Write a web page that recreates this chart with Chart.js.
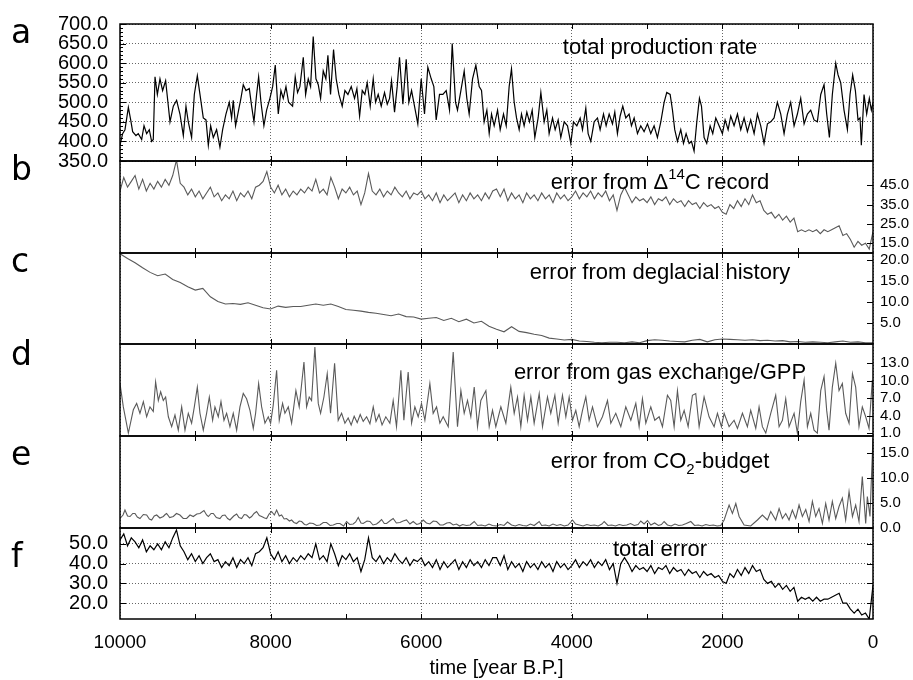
<!DOCTYPE html>
<html><head><meta charset="utf-8">
<script src="https://cdn.jsdelivr.net/npm/chart.js@4/dist/chart.umd.min.js"></script>
<style>
html,body{margin:0;padding:0;background:#fff;}
#wrap{position:relative;width:913px;height:680px;background:#fff;}
#wrap canvas{position:absolute;left:0;top:0;}
</style></head><body><div id="wrap">
<canvas id="cA" width="913" height="680"></canvas>
<canvas id="cB" width="913" height="680"></canvas>
<canvas id="cC" width="913" height="680"></canvas>
<canvas id="cD" width="913" height="680"></canvas>
<canvas id="cE" width="913" height="680"></canvas>
<canvas id="cF" width="913" height="680"></canvas>
</div>
<script>
// ---------------- DATA ----------------
const xLabelYears = [10000, 8000, 6000, 4000, 2000, 0];
const xMinorYears = [9000, 7000, 5000, 3000, 1000];
const xTitle = 'time [year B.P.]';

const ticksA = [350, 400, 450, 500, 550, 600, 650, 700];
const ticksB = [15, 25, 35, 45];
const ticksC = [5, 10, 15, 20];
const ticksD = [1, 4, 7, 10, 13];
const ticksE = [0, 5, 10, 15];
const ticksF = [20, 30, 40, 50];

// (a) total production rate
const aYears = [
 10000, 9965, 9934, 9889, 9858, 9832, 9788, 9757, 9712, 9681,
 9646, 9611, 9580, 9558, 9535, 9504, 9469, 9434, 9394, 9358,
 9336, 9292, 9248, 9204, 9159, 9124, 9093, 9049, 9013, 8973,
 8938, 8894, 8858, 8827, 8796, 8761, 8717, 8673, 8637, 8593,
 8549, 8518, 8496, 8465, 8425, 8394, 8363, 8327, 8283, 8252,
 8221, 8186, 8159, 8128, 8089, 8053, 8009, 7973, 7938, 7898,
 7863, 7832, 7796, 7761, 7708, 7673, 7642, 7611, 7566, 7535,
 7500, 7469, 7434, 7398, 7367, 7336, 7301, 7266, 7239, 7204,
 7164, 7129, 7093, 7049, 7013, 6973, 6929, 6885, 6854, 6818,
 6783, 6748, 6717, 6677, 6637, 6606, 6571, 6531, 6487, 6451,
 6420, 6394, 6354, 6319, 6288, 6243, 6199, 6164, 6128, 6089,
 6045, 6000, 5956, 5912, 5867, 5832, 5801, 5757, 5712, 5668,
 5624, 5588, 5544, 5518, 5473, 5429, 5394, 5363, 5318, 5274,
 5230, 5199, 5164, 5128, 5097, 5066, 5031, 4986, 4951, 4907,
 4871, 4832, 4801, 4765, 4734, 4699, 4668, 4633, 4597, 4562,
 4526, 4491, 4447, 4411, 4367, 4332, 4301, 4256, 4221, 4181,
 4146, 4101, 4057, 4013, 3978, 3933, 3889, 3858, 3814, 3783,
 3748, 3703, 3659, 3624, 3579, 3544, 3504, 3460, 3429, 3394,
 3358, 3323, 3283, 3239, 3208, 3172, 3128, 3084, 3040, 2995,
 2951, 2907, 2863, 2818, 2774, 2739, 2694, 2663, 2633, 2597,
 2553, 2517, 2482, 2442, 2411, 2376, 2340, 2305, 2278, 2243,
 2208, 2163, 2128, 2088, 2044, 2000, 1964, 1924, 1889, 1845,
 1800, 1756, 1712, 1668, 1624, 1579, 1535, 1491, 1447, 1402,
 1358, 1314, 1270, 1225, 1181, 1137, 1093, 1048, 1004, 960,
 915, 871, 827, 783, 739, 694, 650, 615, 579, 540,
 495, 464, 429, 385, 340, 305, 270, 234, 199, 172,
 155, 119, 84, 49, 22, 0];
const aVals = [
 390, 420, 430, 487, 455, 425, 415, 420, 405, 440,
 420, 430, 400, 405, 565, 520, 560, 530, 555, 490,
 450, 490, 505, 470, 415, 490, 450, 410, 520, 568,
 520, 460, 455, 390, 440, 410, 430, 385, 430, 470,
 500, 460, 505, 440, 480, 510, 545, 530, 535, 490,
 450, 520, 565, 500, 440, 480, 510, 540, 595, 470,
 530, 510, 540, 500, 490, 565, 525, 540, 615, 520,
 560, 540, 668, 560, 545, 510, 580, 560, 620, 520,
 635, 560, 520, 490, 530, 520, 540, 510, 535, 465,
 530, 520, 550, 490, 560, 500, 520, 490, 525, 495,
 510, 555, 475, 540, 615, 495, 610, 500, 530, 490,
 445, 560, 470, 590, 560, 540, 455, 520, 520, 530,
 480, 650, 500, 480, 530, 580, 510, 470, 560, 595,
 540, 530, 450, 480, 420, 470, 440, 480, 430, 470,
 440, 540, 585, 500, 460, 430, 470, 440, 475, 450,
 480, 410, 460, 525, 450, 480, 420, 460, 430, 455,
 410, 450, 440, 395, 450, 440, 460, 430, 485, 420,
 400, 450, 460, 430, 470, 440, 470, 445, 475, 420,
 465, 490, 460, 470, 440, 460, 420, 440, 425, 445,
 420, 440, 410, 450, 500, 525, 520, 480, 430, 400,
 430, 395, 420, 395, 400, 375, 450, 510, 490, 410,
 395, 440, 420, 460, 440, 420, 455, 430, 465, 440,
 470, 430, 460, 425, 455, 420, 470, 440, 395, 445,
 450, 460, 500, 470, 420, 470, 500, 440, 470, 510,
 445, 470, 480, 455, 450, 520, 545, 470, 410, 520,
 600, 570, 550, 480, 430, 520, 570, 530, 455, 460,
 390, 520, 470, 510, 480, 500];

// years for series sampled every 50 / 100 years (categories)
const years50 = []; for (let y = 10000; y >= 0; y -= 50) years50.push(y);
const years100 = []; for (let y = 10000; y >= 0; y -= 100) years100.push(y);

// (b) error from D14C record (every 50 yr)
const bVals = [
 42, 49, 44, 47, 50, 43, 48, 42, 46, 43,
 47, 44, 48, 45, 50, 58, 46, 44, 40, 43,
 39, 42, 38, 41, 44, 39, 41, 37, 40, 38,
 42, 37, 41, 39, 42, 38, 44, 45, 47, 52,
 44, 41, 45, 40, 43, 39, 42, 40, 43, 41,
 44, 42, 48, 41, 43, 40, 49, 44, 38, 43,
 41, 44, 40, 42, 35, 41, 51, 42, 40, 43,
 39, 42, 40, 44, 41, 39, 42, 38, 41, 40,
 42, 38, 40, 37, 41, 36, 40, 37, 39, 41,
 36, 40, 37, 41, 38, 40, 37, 41, 38, 42,
 43, 39, 43, 37, 41, 38, 40, 36, 41, 38,
 40, 37, 41, 38, 40, 36, 41, 38, 40, 37,
 39, 42, 38, 41, 39, 42, 38, 41, 39, 42,
 37, 40, 32, 40, 44, 40, 36, 39, 37, 38,
 36, 39, 35, 38, 37, 39, 35, 38, 36, 37,
 34, 37, 35, 36, 33, 36, 34, 35, 33, 34,
 31, 30, 35, 33, 37, 34, 38, 35, 40, 36,
 37, 32, 30, 31, 28, 30, 27, 29, 26, 28,
 21, 22, 21, 22, 21, 22, 20, 22, 21, 22,
 23, 24, 19, 20, 17, 13, 16, 14, 15, 12,
 21];

// (c) error from deglacial history (every 100 yr)
const cVals = [
 21.4, 20.3, 19.3, 18.1, 17.0, 16.2, 16.6, 15.3, 14.6, 13.6,
 12.8, 13.2, 11.2, 10.1, 9.5, 9.6, 9.4, 9.8, 9.2, 8.6,
 8.3, 9.0, 8.7, 8.9, 8.9, 9.2, 9.5, 9.2, 9.5, 8.9,
 8.2, 8.0, 7.8, 7.5, 7.3, 7.0, 6.7, 7.1, 6.5, 6.4,
 5.9, 6.1, 6.3, 5.6, 6.1, 5.3, 5.9, 5.0, 5.4, 4.2,
 3.5, 2.9, 4.1, 3.0, 2.7, 2.3, 2.0, 1.4, 1.2, 0.95,
 1.1, 0.7, 0.6, 0.4, 0.3, 0.4, 0.4, 0.3, 0.5, 0.3,
 0.8, 1.0, 0.9, 0.7, 0.6, 0.5, 0.9, 1.1, 0.5, 1.0,
 1.2, 1.1, 1.0, 0.9, 1.0, 0.8, 0.9, 0.7, 0.8, 0.5,
 0.6, 0.4, 0.5, 0.4, 0.3, 0.5, 0.7, 0.4, 0.5, 0.3,
 0.3];

// (d) error from gas exchange/GPP
const dYears = [
 10000, 9956, 9889, 9823, 9779, 9735, 9690, 9646, 9602, 9558,
 9527, 9491, 9460, 9425, 9394, 9358, 9314, 9270, 9226, 9181,
 9137, 9093, 9049, 9013, 8973, 8938, 8894, 8850, 8814, 8770,
 8739, 8695, 8659, 8619, 8584, 8540, 8496, 8451, 8407, 8363,
 8319, 8274, 8230, 8199, 8159, 8119, 8075, 8031, 8000, 7965,
 7920, 7885, 7841, 7810, 7765, 7721, 7664, 7620, 7557, 7522,
 7487, 7456, 7412, 7367, 7336, 7292, 7248, 7204, 7150, 7102,
 7057, 7013, 6970, 6930, 6890, 6850, 6810, 6770, 6725, 6681,
 6637, 6600, 6560, 6520, 6470, 6416, 6372, 6328, 6270, 6230,
 6173, 6128, 6084, 6040, 5996, 5951, 5885, 5841, 5796, 5752,
 5708, 5641, 5575, 5518, 5473, 5429, 5385, 5341, 5296, 5252,
 5208, 5141, 5097, 5053, 5009, 4942, 4876, 4810, 4765, 4721,
 4677, 4633, 4588, 4544, 4500, 4433, 4389, 4323, 4279, 4225,
 4181, 4124, 4079, 4035, 3991, 3947, 3902, 3858, 3814, 3770,
 3725, 3659, 3593, 3526, 3482, 3416, 3349, 3283, 3216, 3150,
 3106, 3062, 3017, 2951, 2898, 2840, 2796, 2730, 2686, 2641,
 2597, 2553, 2508, 2455, 2398, 2354, 2309, 2243, 2177, 2110,
 2066, 2013, 1977, 1911, 1845, 1800, 1734, 1668, 1624, 1557,
 1513, 1469, 1424, 1358, 1292, 1247, 1203, 1159, 1115, 1048,
 1004, 960, 915, 871, 827, 783, 739, 694, 650, 615,
 584, 540, 495, 451, 407, 363, 318, 273, 230, 186,
 142, 97, 53, 9, 0];
const dVals = [
 9.5, 5.5, 1.0, 5.0, 6.1, 4.4, 6.4, 3.8, 5.5, 4.7,
 9.8, 6.6, 8.1, 6.6, 7.2, 3.8, 2.1, 4.1, 1.5, 5.5,
 1.5, 4.4, 2.7, 5.5, 8.9, 4.4, 1.5, 4.4, 7.2, 3.2,
 5.5, 3.8, 6.4, 3.2, 4.4, 2.1, 4.4, 1.5, 5.5, 7.8,
 6.9, 4.9, 1.8, 4.4, 9.5, 5.5, 2.7, 3.8, 2.7, 5.8,
 11.8, 3.2, 6.1, 4.4, 5.5, 2.7, 8.3, 5.5, 13.2, 5.5,
 7.2, 6.6, 15.8, 6.1, 4.4, 7.2, 11.2, 4.4, 13.0, 3.2,
 4.4, 2.7, 3.6, 2.4, 3.9, 2.8, 4.2, 3.0, 3.8, 2.6,
 5.5, 3.0, 4.2, 2.4, 3.8, 2.7, 6.6, 2.1, 11.8, 3.2,
 11.5, 2.7, 5.5, 3.8, 6.1, 3.2, 9.5, 4.4, 5.5, 2.7,
 3.8, 2.1, 14.9, 2.1, 8.3, 4.4, 6.6, 3.8, 8.9, 2.1,
 6.6, 8.3, 2.1, 4.9, 2.1, 5.5, 2.7, 8.9, 4.4, 7.2,
 2.1, 7.5, 3.2, 7.2, 2.7, 7.8, 2.1, 7.2, 4.4, 7.5,
 2.7, 7.5, 3.8, 7.2, 3.2, 4.9, 2.1, 4.9, 7.2, 3.2,
 5.5, 2.1, 3.8, 6.6, 2.7, 4.4, 2.1, 5.5, 3.2, 6.1,
 2.1, 6.9, 2.7, 5.5, 3.2, 3.8, 2.1, 7.5, 6.6, 2.1,
 8.3, 3.2, 4.9, 2.1, 7.5, 7.8, 2.1, 7.2, 3.8, 2.1,
 4.4, 2.1, 4.4, 2.1, 3.2, 1.8, 4.4, 2.1, 4.9, 1.8,
 5.5, 2.1, 1.0, 4.4, 7.5, 2.1, 3.2, 6.9, 2.1, 4.4,
 1.0, 6.4, 10.1, 2.1, 4.4, 1.5, 1.0, 8.3, 10.7, 4.9,
 1.5, 8.9, 13.0, 8.3, 9.5, 4.4, 2.7, 11.2, 8.9, 2.1,
 5.5, 3.8, 1.8, 10.1, 9.0];

// (e) error from CO2-budget
const eYears = [
 10000, 9960, 9934, 9900, 9867, 9830, 9801, 9770, 9735, 9690,
 9646, 9610, 9580, 9545, 9513, 9470, 9425, 9400, 9381, 9340,
 9292, 9250, 9204, 9160, 9115, 9070, 9027, 8980, 8938, 8885,
 8850, 8827, 8790, 8761, 8720, 8673, 8640, 8606, 8570, 8540,
 8490, 8451, 8420, 8385, 8350, 8319, 8280, 8252, 8220, 8186,
 8150, 8119, 8080, 8053, 8020, 7987, 7950, 7920, 7885, 7854,
 7820, 7788, 7750, 7721, 7690, 7655, 7620, 7588, 7550, 7522,
 7480, 7434, 7390, 7345, 7300, 7257, 7210, 7168, 7120, 7080,
 7030, 6991, 6950, 6903, 6870, 6836, 6800, 6770, 6720, 6681,
 6640, 6593, 6560, 6526, 6490, 6460, 6410, 6372, 6330, 6283,
 6240, 6195, 6150, 6106, 6060, 6018, 5973, 5930, 5885, 5840,
 5796, 5750, 5708, 5660, 5619, 5575, 5531, 5490, 5450, 5400,
 5350, 5296, 5250, 5200, 5150, 5100, 5054, 5000, 4950, 4900,
 4854, 4800, 4750, 4700, 4650, 4600, 4550, 4500, 4433, 4400,
 4350, 4300, 4250, 4200, 4150, 4100, 4050, 3990, 3950, 3900,
 3850, 3800, 3750, 3700, 3650, 3600, 3570, 3520, 3470, 3420,
 3370, 3320, 3270, 3220, 3170, 3120, 3084, 3040, 2995, 2950,
 2900, 2850, 2810, 2774, 2730, 2680, 2630, 2580, 2530, 2480,
 2420, 2370, 2320, 2270, 2220, 2170, 2120, 2070, 2022, 1977,
 1911, 1867, 1822, 1778, 1712, 1624, 1535, 1469, 1402, 1358,
 1292, 1247, 1203, 1159, 1115, 1071, 1026, 982, 938, 893,
 849, 805, 761, 717, 672, 628, 584, 540, 495, 451,
 407, 363, 318, 273, 230, 186, 142, 97, 75, 40,
 22, 0];
const eVals = [
 1.9, 2.6, 3.6, 2.4, 2.3, 2.9, 2.9, 2.2, 1.9, 2.7,
 2.6, 1.8, 1.6, 2.4, 2.6, 2.0, 2.3, 2.7, 2.9, 2.1,
 2.3, 2.9, 2.6, 1.9, 1.9, 2.6, 2.3, 2.8, 2.9, 3.5,
 2.6, 2.3, 2.9, 2.9, 2.1, 1.9, 2.5, 2.6, 1.9, 1.6,
 2.4, 2.8, 2.1, 1.9, 2.7, 2.6, 2.0, 2.3, 2.9, 3.3,
 2.5, 2.3, 2.0, 1.9, 2.8, 3.3, 2.6, 3.6, 2.4, 2.6,
 1.8, 1.9, 1.4, 1.6, 1.1, 0.9, 1.4, 1.3, 0.7, 0.6,
 1.0, 0.9, 0.5, 0.6, 1.1, 1.1, 0.5, 0.6, 0.9, 0.9,
 0.4, 1.3, 0.7, 0.8, 1.2, 2.1, 1.0, 0.9, 1.4, 1.3,
 0.6, 0.8, 1.2, 1.7, 0.9, 0.9, 1.5, 1.9, 1.0, 1.1,
 1.4, 1.6, 0.8, 1.3, 0.7, 0.9, 1.6, 1.0, 0.8, 1.4,
 1.3, 0.6, 0.6, 1.0, 1.1, 0.6, 0.8, 0.4, 0.7, 0.5,
 0.6, 1.3, 0.5, 0.6, 0.4, 0.8, 0.5, 0.4, 0.7, 0.5,
 1.2, 0.6, 0.4, 0.7, 0.5, 0.4, 0.8, 0.5, 1.3, 0.5,
 0.6, 0.4, 0.8, 0.5, 0.7, 0.4, 0.6, 1.6, 0.8, 0.6,
 0.4, 0.7, 0.5, 0.6, 0.4, 0.8, 1.3, 0.5, 0.6, 0.4,
 0.7, 0.5, 0.6, 0.9, 0.5, 0.7, 1.4, 0.8, 1.5, 0.6,
 1.0, 0.5, 0.7, 1.3, 0.6, 0.4, 0.8, 0.5, 0.6, 0.9,
 1.3, 0.5, 0.6, 0.4, 0.7, 0.5, 0.6, 0.4, 0.5, 1.6,
 4.6, 2.9, 4.9, 2.3, 0.6, 0.4, 1.6, 2.6, 1.6, 3.3,
 1.6, 3.9, 1.9, 2.9, 1.6, 3.6, 1.9, 4.6, 2.3, 3.7,
 1.3, 5.3, 2.3, 3.9, 0.9, 4.9, 1.6, 5.3, 1.9, 4.3,
 6.0, 1.6, 7.3, 2.3, 4.6, 1.3, 10.3, 0.9, 6.3, 2.3,
 9.6, 18.0];

// (f) total error (every 50 yr)
const fVals = [
 52, 55, 49, 53, 51, 48, 52, 46, 49, 47,
 50, 47, 51, 48, 53, 57, 49, 46, 42, 45,
 41, 44, 40, 43, 45, 41, 42, 38, 41, 39,
 43, 38, 42, 40, 43, 39, 45, 46, 48, 53,
 45, 42, 46, 41, 44, 40, 43, 41, 44, 42,
 45, 43, 50, 42, 44, 41, 50, 45, 39, 44,
 42, 45, 41, 43, 36, 42, 53, 43, 41, 44,
 40, 43, 41, 45, 42, 40, 43, 39, 42, 41,
 43, 39, 41, 38, 42, 37, 41, 38, 40, 42,
 37, 41, 38, 42, 39, 41, 38, 42, 39, 43,
 43, 39, 44, 37, 41, 38, 40, 36, 41, 38,
 40, 37, 41, 38, 40, 36, 41, 38, 40, 37,
 39, 42, 38, 41, 39, 42, 38, 41, 39, 42,
 37, 40, 30, 40, 43, 40, 36, 39, 37, 38,
 36, 39, 35, 38, 37, 39, 35, 38, 36, 37,
 34, 37, 35, 36, 33, 36, 34, 35, 33, 34,
 31, 30, 35, 33, 37, 34, 38, 35, 39, 36,
 37, 32, 30, 31, 28, 30, 27, 29, 26, 28,
 21, 23, 22, 23, 21, 23, 21, 22, 22, 23,
 24, 25, 20, 20, 17, 15, 17, 14, 15, 12,
 29];

// ---------------- STYLE / LAYOUT ----------------
const W = 913, H = 680, PL = 120, PR = 873;
const FONT = "'Liberation Sans', Arial, Helvetica, sans-serif";
const LFONT = "'DejaVu Sans', Verdana, sans-serif";
const GRID = '#666';

function pts(xs, ys) { const n = Math.min(xs.length, ys.length); const out = []; for (let i = 0; i < n; i++) out.push({x: xs[i], y: ys[i]}); return out; }

const framePlugin = {
  id: 'frame',
  afterDraw(chart, args, o) {
    const {ctx, chartArea: ca, scales} = chart;
    const sx = scales.x, sy = scales.y;
    ctx.save();
    ctx.strokeStyle = '#000';
    ctx.lineWidth = 1;
    ctx.beginPath();
    [...xLabelYears, ...xMinorYears].forEach(v => {
      if (v === 0 || v === 10000) return;
      const px = Math.round(sx.getPixelForValue(v)) + 0.5;
      ctx.moveTo(px, ca.top); ctx.lineTo(px, ca.top + 5);
      ctx.moveTo(px, ca.bottom); ctx.lineTo(px, ca.bottom - 5);
    });
    (o.leftMajor || []).forEach(v => { const py = Math.round(sy.getPixelForValue(v)) + 0.5; ctx.moveTo(ca.left, py); ctx.lineTo(ca.left + 6, py); });
    (o.leftMinor || []).forEach(v => { const py = Math.round(sy.getPixelForValue(v)) + 0.5; ctx.moveTo(ca.left, py); ctx.lineTo(ca.left + 3, py); });
    (o.rightMajor || []).forEach(v => { const py = Math.round(sy.getPixelForValue(v)) + 0.5; ctx.moveTo(ca.right, py); ctx.lineTo(ca.right - 6, py); });
    ctx.stroke();
    ctx.lineWidth = 1.5;
    ctx.strokeRect(ca.left, ca.top, ca.right - ca.left, ca.bottom - ca.top);
    // letter
    ctx.fillStyle = '#000';
    ctx.textAlign = 'left'; ctx.textBaseline = 'alphabetic';
    ctx.font = `33px ${LFONT}`;
    ctx.fillText(o.letter, 11, o.letterY);
    // annotation with rich segments
    let total = 0;
    const segs = o.segs.map(s => { ctx.font = `${s.size}px ${FONT}`; const w = ctx.measureText(s.text).width; total += w; return Object.assign({w}, s); });
    let x = 660 - total / 2;
    segs.forEach(s => { ctx.font = `${s.size}px ${FONT}`; ctx.fillText(s.text, x, o.base + (s.dy || 0)); x += s.w; });
    ctx.restore();
  }
};

function makeChart(id, p) {
  const isF = !!p.xAxis;
  const left = p.side === 'left';
  const minor = [];
  if (p.minorStep) for (let v = p.min + p.minorStep; v < p.max; v += p.minorStep) if (!p.ticks.includes(v)) minor.push(v);
  return new Chart(document.getElementById(id), {
    type: 'line',
    data: { datasets: [{ data: p.data, borderColor: p.color, borderWidth: p.lw || 1.1, pointRadius: 0, tension: 0, fill: false }] },
    options: {
      responsive: false, animation: false, events: [], devicePixelRatio: 1,
      layout: { padding: { top: p.top, bottom: isF ? 0 : H - p.bottom, left: left ? 0 : PL, right: left ? W - PR : 0 } },
      plugins: {
        legend: { display: false }, tooltip: { enabled: false },
        frame: { letter: p.letter, letterY: p.letterY, segs: p.segs, base: p.base,
                 leftMajor: left ? p.ticks : [], leftMinor: minor,
                 rightMajor: !left ? p.ticks : (p.mirror ? p.ticks : []) }
      },
      scales: {
        x: {
          type: 'linear', reverse: true, min: 0, max: 10000,
          afterBuildTicks: s => { s.ticks = xLabelYears.map(v => ({ value: v })); },
          afterFit: s => { s.height = isF ? H - p.bottom : 0; },
          grid: { display: true, drawTicks: false, color: GRID, lineWidth: 1 },
          border: { display: false, dash: [1, 2] },
          ticks: { display: isF, padding: 12, color: '#000', autoSkip: false, maxRotation: 0,
                   font: { family: FONT, size: 19 }, callback: v => String(v) },
          title: { display: isF, text: xTitle, color: '#000', font: { family: FONT, size: 20 }, padding: { top: 0, bottom: 0 } }
        },
        y: {
          type: 'linear', position: p.side, min: p.min, max: p.max,
          afterBuildTicks: s => { s.ticks = p.ticks.map(v => ({ value: v })); },
          afterFit: s => { s.width = left ? PL : W - PR; },
          grid: { display: !!p.hgrid, drawTicks: false, color: GRID, lineWidth: 1 },
          border: { display: false, dash: [1, 2] },
          ticks: { padding: left ? 12 : 7, color: '#000', autoSkip: false,
                   font: { family: FONT, size: left ? 20 : 15 }, callback: v => Number(v).toFixed(1) }
        }
      }
    },
    plugins: [framePlugin]
  });
}

makeChart('cA', { top: 18, bottom: 161, min: 350, max: 700, ticks: ticksA, side: 'left', hgrid: true, minorStep: 10,
  data: pts(aYears, aVals), color: '#000', lw: 1.2, letter: 'a', letterY: 43, base: 54,
  segs: [{ text: 'total production rate', size: 22 }] });
makeChart('cB', { top: 161, bottom: 253, min: 10, max: 57.5, ticks: ticksB, side: 'right',
  data: pts(years50, bVals), color: '#5a5a5a', letter: 'b', letterY: 180, base: 189,
  segs: [{ text: 'error from \u0394', size: 22 }, { text: '14', size: 15, dy: -10 }, { text: 'C record', size: 22 }] });
makeChart('cC', { top: 253, bottom: 344, min: 0, max: 21.6, ticks: ticksC, side: 'right',
  data: pts(years100, cVals), color: '#5a5a5a', letter: 'c', letterY: 272, base: 279,
  segs: [{ text: 'error from deglacial history', size: 22 }] });
makeChart('cD', { top: 344, bottom: 436, min: 0.5, max: 16.3, ticks: ticksD, side: 'right',
  data: pts(dYears, dVals), color: '#5a5a5a', letter: 'd', letterY: 365, base: 379,
  segs: [{ text: 'error from gas exchange/GPP', size: 22 }] });
makeChart('cE', { top: 436, bottom: 528, min: 0, max: 18.4, ticks: ticksE, side: 'right',
  data: pts(eYears, eVals), color: '#5a5a5a', letter: 'e', letterY: 465, base: 468,
  segs: [{ text: 'error from CO', size: 22 }, { text: '2', size: 15, dy: 6 }, { text: '-budget', size: 22 }] });
makeChart('cF', { top: 528, bottom: 619, min: 12, max: 58, ticks: ticksF, side: 'left', hgrid: true, mirror: true, xAxis: true,
  data: pts(years50, fVals), color: '#000', lw: 1.2, letter: 'f', letterY: 567, base: 556,
  segs: [{ text: 'total error', size: 22 }] });
</script>
</body></html>
